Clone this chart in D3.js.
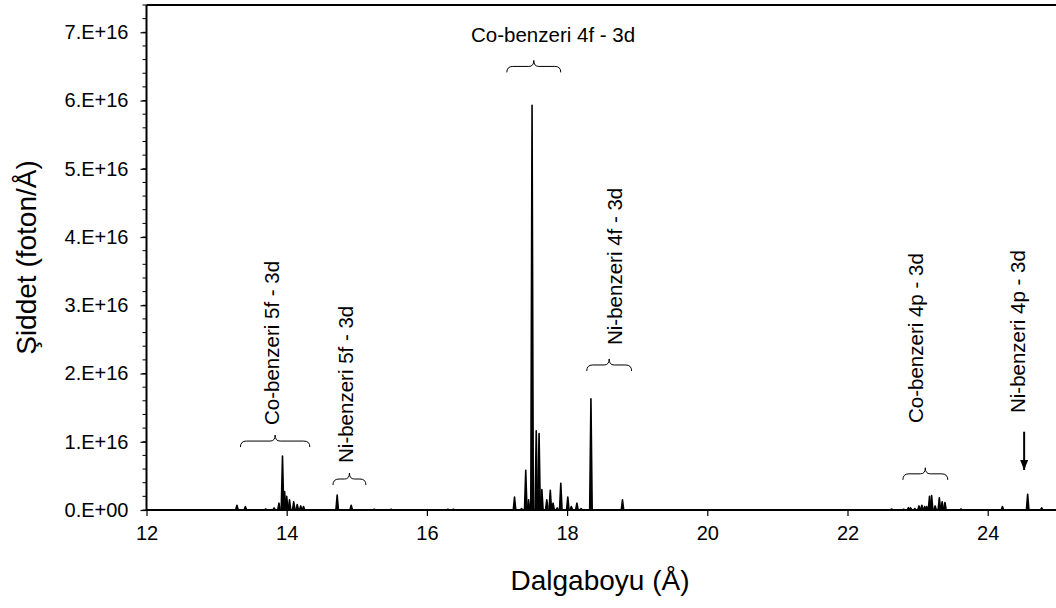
<!DOCTYPE html>
<html>
<head>
<meta charset="utf-8">
<script src="https://cdn.jsdelivr.net/npm/d3@7"></script>
<style>
  body { margin: 0; background: #fff; }
  text { font-family: "Liberation Sans", Arial, sans-serif; fill: #000; }
</style>
</head>
<body>
<svg id="spectrum" width="1056" height="608"></svg>
<script>
/*--- Data ---*/
// wavelength of each line (Å) and its peak intensity (x 1e16 foton/Å)
const peakWl = [
    13.29, 13.41, 13.70, 13.82, 13.89, 13.94, 13.97, 14.00, 14.04, 14.10, 14.15, 14.20, 14.24,
    14.72, 14.92, 15.25, 15.49, 16.30, 16.38,
    17.25, 17.35, 17.41, 17.45, 17.50, 17.56, 17.60, 17.64, 17.71, 17.76, 17.80, 17.86, 17.91,
    18.01, 18.06, 18.14, 18.20, 18.34, 18.79,
    22.63, 22.80, 22.87, 22.90, 22.96, 23.02, 23.06, 23.10, 23.13, 23.17, 23.20, 23.25, 23.31,
    23.35, 23.39, 23.62, 24.21, 24.57, 24.77
];
const peakI = [
    0.07, 0.05, 0.015, 0.03, 0.10, 0.79, 0.27, 0.20, 0.15, 0.12, 0.08, 0.06, 0.05,
    0.22, 0.07, 0.01, 0.01, 0.01, 0.01,
    0.19, 0.02, 0.58, 0.15, 5.93, 1.16, 1.12, 0.30, 0.15, 0.29, 0.10, 0.03, 0.39,
    0.19, 0.05, 0.10, 0.02, 1.63, 0.15,
    0.015, 0.01, 0.035, 0.03, 0.02, 0.06, 0.07, 0.05, 0.05, 0.20, 0.21, 0.06, 0.18,
    0.12, 0.11, 0.015, 0.05, 0.23, 0.03
];

const xTicks = [12, 14, 16, 18, 20, 22, 24];
const yTicks = [0, 1, 2, 3, 4, 5, 6, 7];
const yTickLabels = ["0.E+00", "1.E+16", "2.E+16", "3.E+16", "4.E+16", "5.E+16", "6.E+16", "7.E+16"];

// line groups: name, brace span (Å), brace level (x1e16), label anchor (Å, x1e16)
const groupNames = ["Co-benzeri 5f - 3d", "Ni-benzeri 5f - 3d", "Co-benzeri 4f - 3d",
                    "Ni-benzeri 4f - 3d", "Co-benzeri 4p - 3d"];
const groupFrom  = [13.34, 14.66, 17.14, 18.28, 22.79];
const groupTo    = [14.33, 15.13, 17.91, 18.92, 23.43];
const groupLevel = [1.01, 0.454, 6.50, 2.125, 0.53];
const labelWl    = [13.897, 14.946, 17.80, 18.783, 23.077];
const labelLevel = [1.246, 0.689, 6.858, 2.418, 1.275];

const arrowName = "Ni-benzeri 4p - 3d";
const arrowWl = 24.52, arrowFrom = 1.147, arrowTo = 0.586;
const arrowLabelWl = 24.532, arrowLabelLevel = 1.421;

/*--- Scales ---*/
const svg = d3.select("#spectrum");
const plotLeft = 146.5, plotTop = 5, plotBottom = 510;

const x = d3.scaleLinear().domain([12, 25]).range([plotLeft, plotLeft + 13 * 70.1]);
const y = d3.scaleLinear().domain([0, 7.4]).range([plotBottom, plotTop]);

/*--- Spectrum ---*/
const halfW = 0.018;
svg.append("g")
    .selectAll("path.peak")
    .data(peakWl)
    .join("path")
    .attr("class", "peak")
    .attr("d", (d, i) => d3.line()([
        [x(d - halfW), y(0)],
        [x(d), y(peakI[i])],
        [x(d + halfW), y(0)]
    ]))
    .attr("fill", "#000")
    .attr("stroke", "#000")
    .attr("stroke-width", 1.6)
    .attr("stroke-linejoin", "round");

/*--- Axes ---*/
const yMinor = d3.range(0, 7.41, 0.2);
svg.append("g")
    .selectAll("line")
    .data(yMinor)
    .join("line")
    .attr("x1", plotLeft - 4).attr("x2", plotLeft)
    .attr("y1", d => y(d)).attr("y2", d => y(d))
    .attr("stroke", "#000").attr("stroke-width", 1);

const yAxis = svg.append("g")
    .attr("transform", `translate(${plotLeft},0)`)
    .call(d3.axisLeft(y).tickValues(yTicks).tickSize(6).tickPadding(12)
        .tickFormat((d, i) => yTickLabels[i]));
yAxis.select(".domain").remove();
yAxis.selectAll(".tick line").attr("stroke-width", 1.2);
yAxis.selectAll(".tick text").attr("font-size", 20).style("font-family", "Liberation Sans, Arial");

const xAxis = svg.append("g")
    .attr("transform", `translate(0,${plotBottom})`)
    .call(d3.axisBottom(x).tickValues(xTicks).tickSize(6).tickPadding(10));
xAxis.select(".domain").remove();
xAxis.selectAll(".tick line").attr("stroke-width", 1.2);
xAxis.selectAll(".tick text").attr("font-size", 20).style("font-family", "Liberation Sans, Arial");

// frame: left axis, bottom axis, top border
svg.append("line").attr("x1", plotLeft).attr("x2", plotLeft).attr("y1", plotTop).attr("y2", plotBottom + 1)
    .attr("stroke", "#000").attr("stroke-width", 2);
svg.append("line").attr("x1", plotLeft).attr("x2", 1056).attr("y1", plotBottom).attr("y2", plotBottom)
    .attr("stroke", "#000").attr("stroke-width", 2);
svg.append("line").attr("x1", plotLeft).attr("x2", 1056).attr("y1", plotTop).attr("y2", plotTop)
    .attr("stroke", "#000").attr("stroke-width", 2);

/*--- Axis titles ---*/
svg.append("text")
    .attr("x", 600).attr("y", 590)
    .attr("text-anchor", "middle")
    .attr("font-size", 28)
    .text("Dalgaboyu (Å)");

svg.append("text")
    .attr("transform", `translate(36,${(plotTop + plotBottom) / 2}) rotate(-90)`)
    .attr("text-anchor", "middle")
    .attr("font-size", 28)
    .text("Şiddet (foton/Å)");

/*--- Annotations ---*/
function brace(x0, x1, yb) {
    const xm = (x0 + x1) / 2, h = 6;
    return `M${x0},${yb + h} Q${x0},${yb} ${x0 + 6},${yb} L${xm - 5},${yb} ` +
           `Q${xm},${yb} ${xm},${yb - 6} Q${xm},${yb} ${xm + 5},${yb} ` +
           `L${x1 - 6},${yb} Q${x1},${yb} ${x1},${yb + h}`;
}

const annFont = 20.5;
const ann = svg.append("g");
groupNames.forEach(function (name, i) {
    ann.append("path")
        .attr("d", brace(x(groupFrom[i]), x(groupTo[i]), y(groupLevel[i])))
        .attr("fill", "none")
        .attr("stroke", "#000")
        .attr("stroke-width", 1);
    if (i === 2) {
        ann.append("text")
            .attr("x", x(labelWl[i])).attr("y", y(labelLevel[i]))
            .attr("text-anchor", "middle")
            .attr("font-size", annFont)
            .text(name);
    } else {
        ann.append("text")
            .attr("transform", `translate(${x(labelWl[i])},${y(labelLevel[i])}) rotate(-90)`)
            .attr("text-anchor", "start")
            .attr("font-size", annFont)
            .text(name);
    }
});

// arrow for the single Ni-like 4p line
const ax = x(arrowWl);
ann.append("defs").append("marker")
    .attr("id", "head")
    .attr("viewBox", "0 0 10 10")
    .attr("refX", 10).attr("refY", 5)
    .attr("markerWidth", 5).attr("markerHeight", 5)
    .attr("orient", "auto")
    .append("path").attr("d", "M0,1 L10,5 L0,9 z").attr("fill", "#000");
ann.append("line")
    .attr("x1", ax).attr("x2", ax)
    .attr("y1", y(arrowFrom)).attr("y2", y(arrowTo))
    .attr("stroke", "#000").attr("stroke-width", 2)
    .attr("marker-end", "url(#head)");
ann.append("text")
    .attr("transform", `translate(${x(arrowLabelWl)},${y(arrowLabelLevel)}) rotate(-90)`)
    .attr("text-anchor", "start")
    .attr("font-size", annFont)
    .text(arrowName);
</script>
</body>
</html>
